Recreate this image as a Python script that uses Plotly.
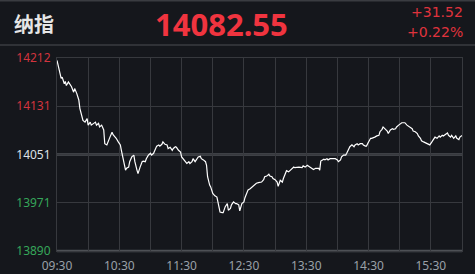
import plotly.graph_objects as go

# Minutes since 09:30 and index values
minutes = [0,1,3,4,5,6,7,8,9,11,12,14,16,17,19,21,22,24,25,27,29,30,32,33,35,37,38,40,41,43,45,46,48,49,51,53,54,56,57,59,61,62,64,66,67,69,70,72,74,75,77,78,
           80,82,83,85,86,88,90,91,93,94,96,98,99,101,102,104,106,107,109,111,112,114,115,117,119,120,122,123,125,127,128,130,131,133,135,136,138,139,141,143,144,145,147,148,150,152,154,155,
           157,159,160,162,164,165,167,168,170,172,173,175,176,178,180,181,183,184,186,188,189,191,192,194,196,197,199,200,202,204,205,207,208,210,212,213,215,217,218,220,221,223,225,226,228,229,231,
           233,236,237,239,241,242,244,245,247,249,252,253,254,257,258,260,261,263,265,266,268,270,271,273,274,276,278,279,281,282,284,286,287,289,290,292,294,295,297,298,300,302,303,305,306,308,310,
           311,313,314,316,318,319,321,323,324,326,327,329,331,332,334,335,337,339,340,342,343,345,347,348,350,351,353,355,356,358,359,361,363,364,366,368,369,371,372,374,376,377,379,380,382,384,385,387,388,390]
prices = [14208,14200,14183,14178,14180,14175,14169,14173,14166,14172,14169,14164,14155,14161,14153,14142,14128,14117,14108,14105,14111,14100,14105,14100,14103,14105,14100,14103,14097,14100,14092,14069,14067,14072,14080,14088,14084,14080,14078,14072,14067,14058,14044,14025,14028,14030,14039,14047,14050,14039,14025,14019,
          14030,14039,14040,14039,14044,14050,14053,14050,14053,14058,14065,14067,14065,14068,14072,14068,14067,14061,14063,14058,14061,14064,14063,14058,14055,14047,14042,14039,14036,14039,14036,14039,14044,14039,14044,14047,14048,14044,14042,14039,14033,14014,14000,13997,13986,13982,13980,13972,
          13955,13954,13954,13964,13969,13958,13961,13967,13972,13969,13969,13967,13957,13969,13972,13979,13986,13992,13994,13997,13997,14000,14003,14004,14004,14005,14009,14014,14015,14018,14015,14014,14011,14009,14005,13998,14008,14005,14011,14022,14024,14022,14025,14026,14030,14029,14030,
          14030,14029,14032,14030,14033,14032,14030,14028,14026,14028,14028,14025,14040,14043,14042,14044,14042,14044,14044,14043,14044,14042,14039,14042,14047,14050,14050,14053,14061,14064,14067,14064,14067,14069,14067,14069,14069,14067,14065,14065,14072,14078,14078,14079,14080,14082,14083,
          14089,14093,14097,14094,14090,14086,14092,14094,14093,14094,14097,14100,14103,14104,14104,14104,14100,14098,14096,14094,14090,14089,14086,14082,14078,14074,14072,14070,14069,14068,14067,14072,14078,14080,14078,14082,14080,14083,14082,14085,14087,14083,14080,14083,14078,14082,14078,14076,14080,14082.55]

prev_close = 14051.03
y_ticks = [13890, 13970.5, 14051, 14131.5, 14212]
y_labels = ["13890", "13971", "14051", "14131", "14212"]
y_label_colors = ["#35a65a", "#35a65a", "#dde1e6", "#d2343e", "#d2343e"]
x_ticks = list(range(0, 391, 30))
x_labels = ["09:30", "", "10:30", "", "11:30", "", "12:30", "", "13:30", "", "14:30", "", "15:30", ""]

title = "纳指"
last_price = "14082.55"
change = "+31.52"
change_pct = "+0.22%"

BG = "#15171c"
GRID = "#37393e"
W, H = 475, 274
L, R, T, B = 57, 13, 58, 23
PW, PH = W - L - R, H - T - B

def px_x(x):
    return (x - L) / PW

def px_y(y):
    return 1 - (y - T) / PH

fig = go.Figure()
fig.add_trace(go.Scatter(x=minutes, y=prices, mode="lines",
                         line=dict(color="#ffffff", width=1.2), hoverinfo="skip"))

shapes = [
    dict(type="line", xref="paper", yref="y", x0=0, x1=1, y0=prev_close, y1=prev_close,
         line=dict(color="#4d5055", width=2.5), layer="below"),
    dict(type="line", xref="paper", yref="paper", x0=0, x1=1, y0=0, y1=0,
         line=dict(color="#4d5055", width=2.5), layer="below"),
    dict(type="line", xref="paper", yref="paper", x0=px_x(0), x1=px_x(W), y0=px_y(45), y1=px_y(45),
         line=dict(color="#3a3c41", width=1.5), layer="below"),
    dict(type="line", xref="paper", yref="paper", x0=px_x(0), x1=px_x(W), y0=px_y(0.8), y1=px_y(0.8),
         line=dict(color="#3a3c41", width=1.5), layer="below"),
]

annotations = [
    dict(text=f"<b>{title}</b>", xref="paper", yref="paper", x=px_x(12), y=px_y(23),
         xanchor="left", yanchor="middle", showarrow=False,
         font=dict(family="Noto Sans CJK SC", size=20, color="#e6e6e6")),
    dict(text=f"<b>{last_price}</b>", xref="paper", yref="paper", x=px_x(221), y=px_y(24),
         xanchor="center", yanchor="middle", showarrow=False,
         font=dict(family="Noto Sans", size=31, color="#f0343f")),
    dict(text=change, xref="paper", yref="paper", x=px_x(465), y=px_y(22),
         xanchor="right", yanchor="bottom", showarrow=False,
         font=dict(family="DejaVu Sans", size=14, color="#e0333d")),
    dict(text=change_pct, xref="paper", yref="paper", x=px_x(465), y=px_y(22),
         xanchor="right", yanchor="top", showarrow=False,
         font=dict(family="DejaVu Sans", size=14, color="#e0333d")),
]

fig.update_layout(
    width=W, height=H,
    margin=dict(l=L, r=R, t=T, b=B, pad=0, autoexpand=False),
    paper_bgcolor=BG, plot_bgcolor=BG,
    showlegend=False,
    shapes=shapes,
    annotations=annotations,
    xaxis=dict(range=[0, 390], tickvals=x_ticks, ticktext=x_labels, automargin=False,
               showgrid=True, gridcolor=GRID, gridwidth=1.2,
               zeroline=False, showline=True, linecolor=GRID, mirror=True,
               ticks="outside", ticklen=4, tickcolor="rgba(0,0,0,0)",
               tickfont=dict(family="Noto Sans", size=12, color="#9aa0a8"),
               fixedrange=True),
    yaxis=dict(range=[13890, 14212], tickvals=y_ticks, automargin=False,
               ticktext=[f'<span style="color:{c}">{t}</span>' for t, c in zip(y_labels, y_label_colors)],
               showgrid=True, gridcolor=GRID, gridwidth=1.2,
               zeroline=False, showline=True, linecolor=GRID, mirror=True,
               ticks="outside", ticklen=3, tickcolor="rgba(0,0,0,0)",
               tickfont=dict(family="Noto Sans", size=12, color="#dde1e6"),
               fixedrange=True),
)

fig.write_html("out.html", config={"displayModeBar": False})
